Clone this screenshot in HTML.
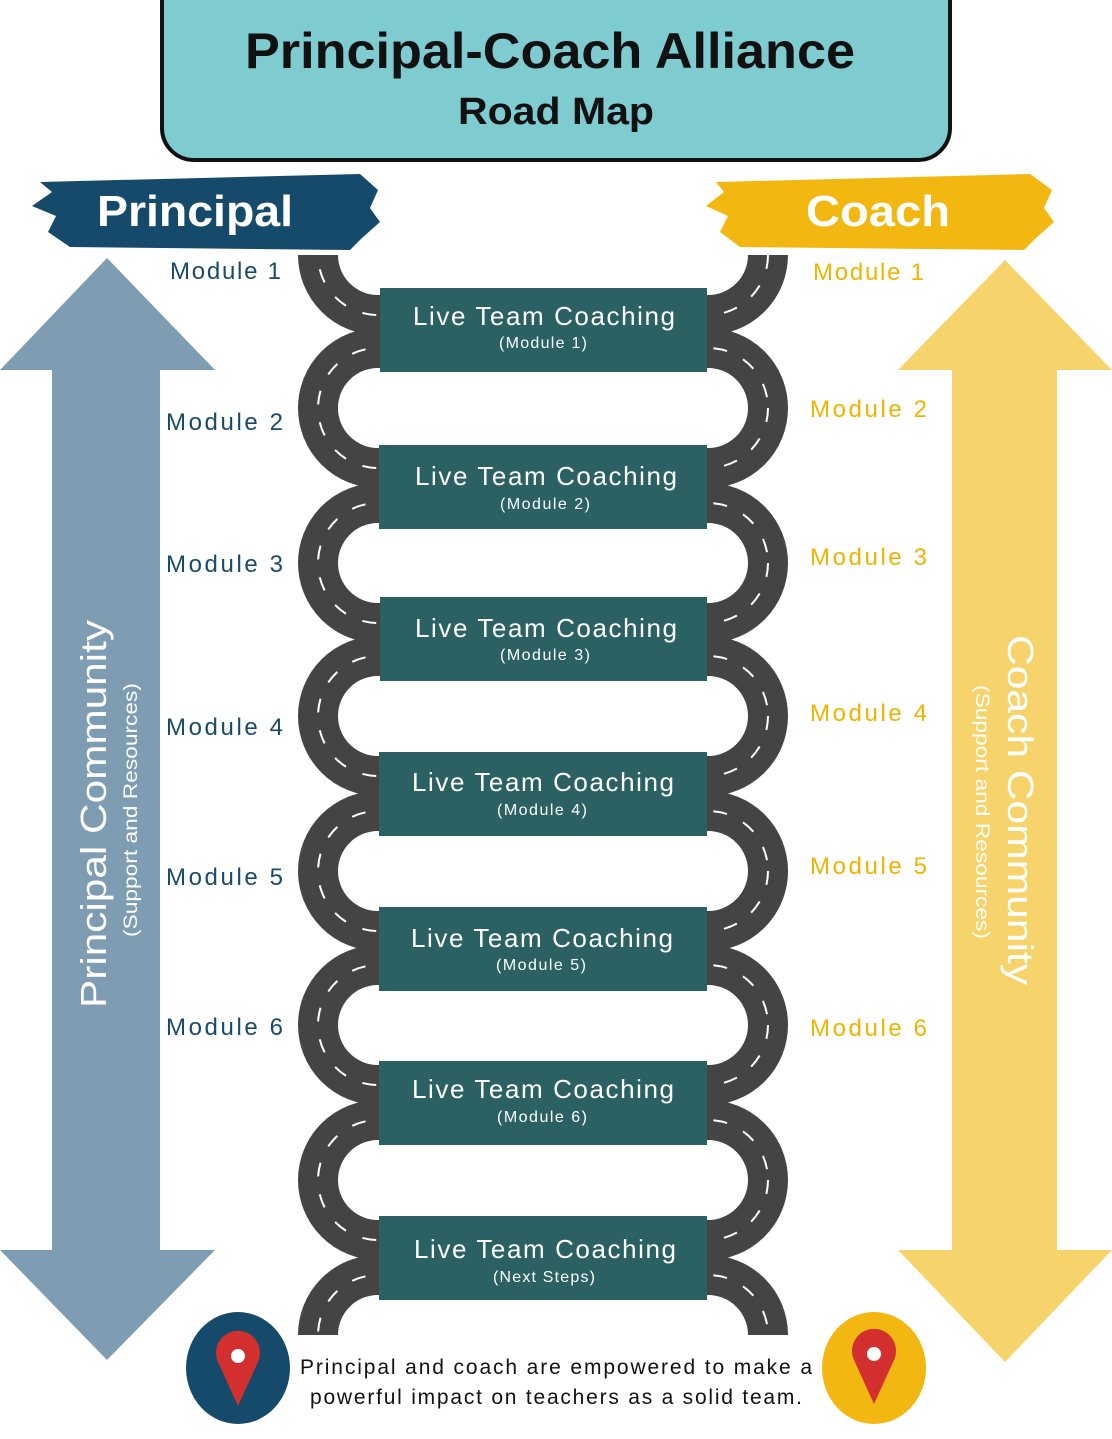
<!DOCTYPE html>
<html><head><meta charset="utf-8"><style>
html,body{margin:0;padding:0;background:#fff;}
svg{display:block;}
text{font-family:"Liberation Sans",sans-serif;}
</style></head><body>
<svg width="1112" height="1439" viewBox="0 0 1112 1439" xmlns="http://www.w3.org/2000/svg">
<defs>
<clipPath id="cl"><rect x="280" y="255" width="100" height="1080"/></clipPath>
<clipPath id="cr"><rect x="707" y="255" width="100" height="1080"/></clipPath>
</defs>
<!-- title -->
<rect x="162" y="-30" width="788" height="190" rx="32" fill="#7ecbd0" stroke="#111" stroke-width="4"/>
<text x="550" y="68" text-anchor="middle" font-size="50" font-weight="bold" fill="#111" textLength="610" lengthAdjust="spacingAndGlyphs">Principal-Coach Alliance</text>
<text x="556" y="124" text-anchor="middle" font-size="38" font-weight="bold" fill="#111" textLength="196" lengthAdjust="spacingAndGlyphs">Road Map</text>
<!-- banners -->
<path d="M40 182 L360 174 L378 190 L370 208 L380 222 L362 238 L350 250 L70 247 L48 232 L56 216 L32 206 L52 192 Z" fill="#154a6b"/>
<text x="195" y="226" text-anchor="middle" font-size="44" font-weight="bold" fill="#fff" textLength="196" lengthAdjust="spacingAndGlyphs">Principal</text>
<path d="M716 182 L1030 174 L1052 190 L1044 208 L1054 222 L1036 238 L1024 250 L740 247 L720 232 L728 216 L706 206 L724 192 Z" fill="#f3b712"/>
<text x="878" y="226" text-anchor="middle" font-size="44" font-weight="bold" fill="#fff" textLength="144" lengthAdjust="spacingAndGlyphs">Coach</text>
<!-- arrows -->
<polygon points="107,258 215,370 160,370 160,1250 215,1250 107,1360 0,1250 52,1250 52,370 0,370" fill="#7f9db2"/>
<polygon points="1005,260 1112,370 1057,370 1057,1250 1112,1250 1005,1362 898,1250 952,1250 952,370 898,370" fill="#f7d36b"/>
<text transform="translate(106,814) rotate(-90)" text-anchor="middle" font-size="36" fill="#fff" textLength="388" lengthAdjust="spacingAndGlyphs">Principal Community</text>
<text transform="translate(137,810) rotate(-90)" text-anchor="middle" font-size="19" fill="#fff" textLength="254" lengthAdjust="spacingAndGlyphs">(Support and Resources)</text>
<text transform="translate(1008,810) rotate(90)" text-anchor="middle" font-size="36" fill="#fff" textLength="350" lengthAdjust="spacingAndGlyphs">Coach Community</text>
<text transform="translate(976,812) rotate(90)" text-anchor="middle" font-size="19" fill="#fff" textLength="254" lengthAdjust="spacingAndGlyphs">(Support and Resources)</text>
<!-- roads -->
<g clip-path="url(#cl)">
<g fill="none" stroke="#444" stroke-width="40">
<circle cx="378" cy="255" r="60"/><circle cx="378" cy="408" r="60"/><circle cx="378" cy="563" r="60"/><circle cx="378" cy="716" r="60"/><circle cx="378" cy="871" r="60"/><circle cx="378" cy="1025" r="60"/><circle cx="378" cy="1180" r="60"/><circle cx="378" cy="1335" r="60"/>
</g>
<g fill="none" stroke="#fff" stroke-width="2" stroke-dasharray="14 18">
<circle cx="378" cy="255" r="60"/><circle cx="378" cy="408" r="60"/><circle cx="378" cy="563" r="60"/><circle cx="378" cy="716" r="60"/><circle cx="378" cy="871" r="60"/><circle cx="378" cy="1025" r="60"/><circle cx="378" cy="1180" r="60"/><circle cx="378" cy="1335" r="60"/>
</g>
</g>
<g clip-path="url(#cr)">
<g fill="none" stroke="#444" stroke-width="40">
<circle cx="708" cy="255" r="60"/><circle cx="708" cy="408" r="60"/><circle cx="708" cy="563" r="60"/><circle cx="708" cy="716" r="60"/><circle cx="708" cy="871" r="60"/><circle cx="708" cy="1025" r="60"/><circle cx="708" cy="1180" r="60"/><circle cx="708" cy="1335" r="60"/>
</g>
<g fill="none" stroke="#fff" stroke-width="2" stroke-dasharray="14 18">
<circle cx="708" cy="255" r="60"/><circle cx="708" cy="408" r="60"/><circle cx="708" cy="563" r="60"/><circle cx="708" cy="716" r="60"/><circle cx="708" cy="871" r="60"/><circle cx="708" cy="1025" r="60"/><circle cx="708" cy="1180" r="60"/><circle cx="708" cy="1335" r="60"/>
</g>
</g>
<!-- boxes -->
<g fill="#2b6163">
<rect x="380" y="288" width="327" height="84"/>
<rect x="379" y="445" width="328" height="84"/>
<rect x="380" y="597" width="327" height="84"/>
<rect x="379" y="752" width="328" height="84"/>
<rect x="379" y="907" width="328" height="84"/>
<rect x="379" y="1061" width="328" height="84"/>
<rect x="379" y="1216" width="328" height="84"/>
</g>
<g fill="#fff" text-anchor="middle" lengthAdjust="spacingAndGlyphs">
<text x="544" y="325" font-size="26" textLength="262">Live Team Coaching</text><text x="543" y="348" font-size="16" textLength="88">(Module 1)</text>
<text x="546" y="485" font-size="26" textLength="262">Live Team Coaching</text><text x="545" y="509" font-size="16" textLength="90">(Module 2)</text>
<text x="546" y="637" font-size="26" textLength="262">Live Team Coaching</text><text x="545" y="660" font-size="16" textLength="90">(Module 3)</text>
<text x="543" y="791" font-size="26" textLength="262">Live Team Coaching</text><text x="542" y="815" font-size="16" textLength="90">(Module 4)</text>
<text x="542" y="947" font-size="26" textLength="262">Live Team Coaching</text><text x="541" y="970" font-size="16" textLength="90">(Module 5)</text>
<text x="543" y="1098" font-size="26" textLength="262">Live Team Coaching</text><text x="542" y="1122" font-size="16" textLength="90">(Module 6)</text>
<text x="545" y="1258" font-size="26" textLength="262">Live Team Coaching</text><text x="544" y="1282" font-size="16" textLength="102">(Next Steps)</text>
</g>
<!-- module labels -->
<g fill="#1a4a6b" font-size="24">
<text x="170" y="279" textLength="111">Module 1</text><text x="166" y="430" textLength="117">Module 2</text><text x="166" y="572" textLength="117">Module 3</text><text x="166" y="735" textLength="117">Module 4</text><text x="166" y="885" textLength="117">Module 5</text><text x="166" y="1035" textLength="117">Module 6</text>
</g>
<g fill="#f0b400" font-size="24">
<text x="813" y="280" textLength="111">Module 1</text><text x="810" y="417" textLength="117">Module 2</text><text x="810" y="565" textLength="117">Module 3</text><text x="810" y="721" textLength="117">Module 4</text><text x="810" y="874" textLength="117">Module 5</text><text x="810" y="1036" textLength="117">Module 6</text>
</g>
<!-- bottom -->
<ellipse cx="238" cy="1368" rx="52" ry="56" fill="#154a6b"/>
<path d="M238 1406 L218 1362 A22 22 0 1 1 258 1362 Z" fill="#d32f2f"/>
<circle cx="238" cy="1356" r="7" fill="#fff"/>
<ellipse cx="874" cy="1368" rx="52" ry="56" fill="#f3b712"/>
<path d="M874 1404 L854 1360 A22 22 0 1 1 894 1360 Z" fill="#d32f2f"/>
<circle cx="874" cy="1354" r="7" fill="#fff"/>
<text x="556" y="1374" text-anchor="middle" font-size="21" fill="#111" textLength="512">Principal and coach are empowered to make a</text>
<text x="556" y="1404" text-anchor="middle" font-size="21" fill="#111" textLength="492">powerful impact on teachers as a solid team.</text>
</svg>
</body></html>
